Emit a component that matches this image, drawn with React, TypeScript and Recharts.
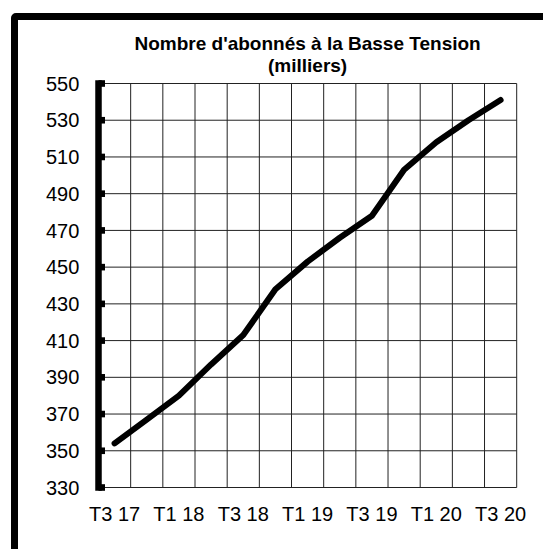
import React from 'react';
import { LineChart, Line, XAxis, YAxis, CartesianGrid } from 'recharts';

const quarters = ['T3 17', 'T4 17', 'T1 18', 'T2 18', 'T3 18', 'T4 18', 'T1 19', 'T2 19', 'T3 19', 'T4 19', 'T1 20', 'T2 20', 'T3 20'];
const subscribers = [354, 367, 380, 397, 413, 438, 453, 466, 478, 503, 518, 530, 541];
const yTicks = [330, 350, 370, 390, 410, 430, 450, 470, 490, 510, 530, 550];
const titleLines = ["Nombre d'abonnés à la Basse Tension", '(milliers)'];

const data = quarters.map((q, i) => ({ q, v: subscribers[i] }));
const gridTicks = quarters.map((_, i) => i).concat([quarters.length]);
const slotOf = (d: any) => quarters.indexOf(d.q);

const FONT = '"Liberation Sans", Arial, sans-serif';

const YTick = (props: any) => {
  const { x, y, payload } = props;
  return (
    <g>
      <rect x={x} y={y - 3.3} width={6.5} height={6.6} fill="#000" />
      <text x={x - 19.2} y={y} dy="0.355em" textAnchor="end" fontSize={20} fontFamily={FONT} fill="#000">
        {payload.value}
      </text>
    </g>
  );
};

const XGridTick = (props: any) => {
  const { x, y } = props;
  return <rect x={x - 3.5} y={y - 6.3} width={7} height={6.3} fill="#000" />;
};

export default function App() {
  return (
    <div style={{ position: 'fixed', left: 0, top: 0, width: 543, height: 549, overflow: 'hidden', background: '#fff' }}>
      <div
        style={{
          position: 'absolute',
          left: 11,
          top: 13,
          width: 700,
          height: 700,
          border: '7px solid #000',
          borderRadius: 5,
        }}
      />
      <div
        style={{
          position: 'absolute',
          left: 107.6,
          top: 33,
          width: 400,
          textAlign: 'center',
          fontFamily: FONT,
          fontWeight: 'bold',
          fontSize: 19,
          lineHeight: '22px',
          color: '#000',
        }}
      >
        {titleLines.map((t) => (
          <div key={t}>{t}</div>
        ))}
      </div>
      <div style={{ position: 'absolute', left: 0, top: 0 }}>
        <LineChart width={543} height={549} data={data} margin={{ top: 83.5, right: 26.3, left: 38.5, bottom: 21.5 }}>
          <CartesianGrid xAxisId="grid" stroke="#222" strokeWidth={1} />
          <XAxis
            xAxisId="grid"
            type="number"
            dataKey={slotOf}
            domain={[0, quarters.length]}
            ticks={gridTicks}
            allowDataOverflow
            height={0}
            tickSize={0}
            tickMargin={0}
            tickLine={false}
            interval={0}
            axisLine={{ stroke: '#000', strokeWidth: 6.5, strokeLinecap: 'square' }}
            tick={(p: any) => <XGridTick {...p} />}
          />
          <XAxis
            xAxisId="cat"
            dataKey="q"
            type="category"
            scale="band"
            interval={1}
            height={40}
            axisLine={false}
            tickLine={false}
            tickSize={17}
            tickMargin={2}
            tick={{ fill: '#000', fontSize: 20, fontFamily: FONT }}
          />
          <YAxis
            domain={[330, 550]}
            ticks={yTicks}
            width={60}
            tickSize={0}
            tickMargin={0}
            tickLine={false}
            interval={0}
            axisLine={{ stroke: '#000', strokeWidth: 6.5, strokeLinecap: 'square' }}
            tick={(p: any) => <YTick {...p} />}
          />
          <Line
            xAxisId="cat"
            dataKey="v"
            stroke="#000"
            strokeWidth={6}
            strokeLinecap="round"
            strokeLinejoin="round"
            dot={false}
            isAnimationActive={false}
          />
        </LineChart>
      </div>
    </div>
  );
}
